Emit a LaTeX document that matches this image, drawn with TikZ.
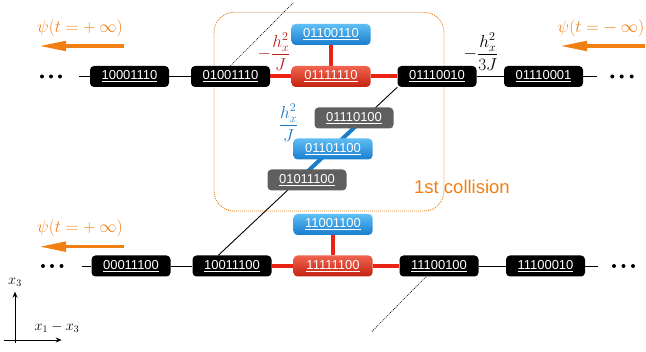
\documentclass[tikz,border=0pt]{standalone}
\usepackage{fontspec}
\newfontfamily\boxfont{Liberation Sans}
\usetikzlibrary{arrows.meta,calc,backgrounds}
\definecolor{orng}{RGB}{240,128,20}
\definecolor{gryc}{RGB}{95,95,95}
\definecolor{blutop}{RGB}{95,190,245}
\definecolor{blubot}{RGB}{25,125,205}
\definecolor{redtop}{RGB}{240,100,80}
\definecolor{redbot}{RGB}{195,35,15}
\definecolor{redln}{RGB}{235,35,20}
\definecolor{bluln}{RGB}{25,125,200}
\definecolor{redlab}{RGB}{185,30,25}
\definecolor{blulab}{RGB}{25,120,195}
\begin{document}
\begin{tikzpicture}[x=1pt,y=-1pt,
  st/.style={rounded corners=4pt, minimum width=79pt, minimum height=21pt, inner sep=0pt,
    text=white, font=\boxfont\fontsize{13}{13}\selectfont},
  blk/.style={st, fill=black},
  gry/.style={st, fill=gryc},
  blu/.style={st, top color=blutop, bottom color=blubot},
  rd/.style={st, top color=redtop, bottom color=redbot},
  thinln/.style={black, line width=0.9pt},
  redthick/.style={redln, line width=4pt},
  bluthick/.style={bluln, line width=4pt},
  dotln/.style={black, line width=0.6pt, dash pattern=on 1pt off 1pt},
  dotfill/.style={fill=black},
  psilab/.style={text=orng, font=\fontsize{17.28}{19}\selectfont, inner sep=0pt},
  psiarrow/.style={orng, line width=3.5pt, -{Triangle[length=27pt,width=9.5pt]}},
  fraclab/.style={font=\fontsize{17.28}{19}\selectfont, inner sep=0pt},
  axlab/.style={font=\fontsize{14.4}{16}\selectfont, inner sep=0pt},
  axarrow/.style={black, line width=0.8pt, -{Stealth[length=6pt,width=5pt]}}
]
\useasboundingbox (0,0) rectangle (646,352);

% top row
\node[blk] (n1) at (129.5,76.5) {\underline{10001110}};
\node[blk] (n2) at (230.5,76.5) {\underline{01001110}};
\node[rd]  (r1) at (331,76.5)   {\underline{01111110}};
\node[blu] (b1) at (331,34.5)   {\underline{01100110}};
\node[blk] (n3) at (437,76.5)   {\underline{01110010}};
\node[blk] (n4) at (543.5,76.5) {\underline{01110001}};
% middle
\node[gry] (g1) at (354,118) {\underline{01110100}};
\node[blu] (b2) at (333,149) {\underline{01101100}};
\node[gry] (g2) at (307,180) {\underline{01011100}};
% bottom row
\node[blk] (m1) at (131,266)   {\underline{00011100}};
\node[blk] (m2) at (232,266)   {\underline{10011100}};
\node[rd]  (r2) at (333,266)   {\underline{11111100}};
\node[blu] (b3) at (333,224.5) {\underline{11001100}};
\node[blk] (m3) at (439,266)   {\underline{11100100}};
\node[blk] (m4) at (545.5,266) {\underline{11100010}};

% dots
\foreach \x in {42,51,60} \fill[dotfill] (\x,76.5) circle (2pt);
\foreach \x in {612.3,621.7,631.7} \fill[dotfill] (\x,76.5) circle (2pt);
\foreach \x in {43,52,61.5} \fill[dotfill] (\x,266) circle (2pt);
\foreach \x in {614,623.5,633} \fill[dotfill] (\x,266) circle (2pt);

\coordinate (cL1) at (79,76.5);
\coordinate (cR1) at (597,76.5);
\coordinate (cL2) at (81.7,266);
\coordinate (cR2) at (598,266);
\coordinate (dtop) at (294,2);
\coordinate (dbot) at (371.7,331.7);
\coordinate (dA) at (n3.south west);
\coordinate (dB) at ($(m2.north west)+(26,0)$);

\begin{scope}[on background layer]
  \draw[orng, line width=0.9pt, dash pattern=on 1pt off 1pt, rounded corners=20pt]
    (214,12.3) rectangle (444,211);
  \draw[thinln] (cL1) -- (n1);
  \draw[thinln] (n1) -- (n2);
  \draw[thinln] (n3) -- (n4);
  \draw[thinln] (n4) -- (cR1);
  \draw[redthick] (n2) -- (r1);
  \draw[redthick] (r1) -- (n3);
  \draw[redthick] (r1) -- (b1);
  \draw[thinln] (cL2) -- (m1);
  \draw[thinln] (m1) -- (m2);
  \draw[thinln] (m3) -- (m4);
  \draw[thinln] (m4) -- (cR2);
  \draw[redthick] (m2) -- (r2);
  \draw[redthick] (r2) -- (m3);
  \draw[redthick] (r2) -- (b3);
  \draw[thinln] (dA) -- (dB);
  \draw[bluthick] ($(dA)!0.2!(dB)$) -- ($(dA)!0.52!(dB)$);
  \draw[dotln] (n2.north) -- (dtop);
  \draw[dotln] ($(m3.south west)+(26.7,0)$) -- (dbot);
\end{scope}

% labels
\node[text=orng, font=\boxfont\fontsize{18.5}{20}\selectfont, inner sep=0pt] (coll) at (462,187) {1st collision};
\node[psilab] (psi1) at (80,28) {$\psi(t=+\mskip4mu\infty)$};
\node[psilab] (psi2) at (601,28) {$\psi(t=-\mskip4mu\infty)$};
\node[psilab] (psi3) at (80,228) {$\psi(t=+\mskip4mu\infty)$};
\coordinate (a1s) at (124,46);  \coordinate (a1e) at (39,46);
\coordinate (a2s) at (645,46);  \coordinate (a2e) at (560,46);
\coordinate (a3s) at (124,246.7); \coordinate (a3e) at (39,246.7);
\draw[psiarrow] (a1s) -- (a1e);
\draw[psiarrow] (a2s) -- (a2e);
\draw[psiarrow] (a3s) -- (a3e);

\node[fraclab, text=redlab] (lr) at (274,52) {$-{\displaystyle\frac{h_x^2}{J}}$};
\node[fraclab, text=blulab] (lb) at (288.5,123) {${\displaystyle\frac{h_x^2}{J}}$};
\node[fraclab, text=black] (lk) at (481,52) {$-{\displaystyle\frac{h_x^2}{3J}}$};

% axes
\coordinate (ax0) at (15,343);
\coordinate (ax1) at (15,291.7);
\coordinate (ay0) at (4,340);
\coordinate (ay1) at (61.7,340);
\draw[axarrow] (ax0) -- (ax1);
\draw[axarrow] (ay0) -- (ay1);
\node[axlab] (lx3) at (15,282) {$x_3$};
\node[axlab] (lx13) at (57,327) {$x_1-x_3$};
\end{tikzpicture}
\end{document}
